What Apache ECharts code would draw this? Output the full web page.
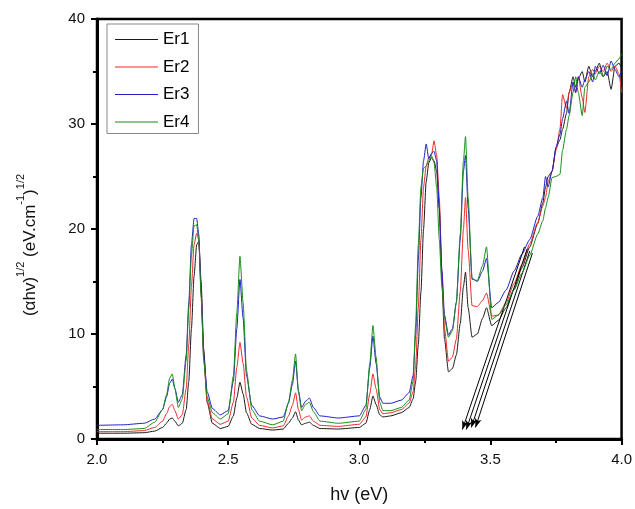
<!DOCTYPE html>
<html>
<head>
<meta charset="utf-8">
<script src="https://cdn.jsdelivr.net/npm/echarts@6/dist/echarts.min.js"></script>
<style>
html,body{margin:0;padding:0;background:#fff;}
#chart{width:635px;height:509px;}
</style>
</head>
<body>
<div id="chart"></div>
<script>
var hv = [2.00,2.10,2.18,2.22,2.25,2.265,2.277,2.287,2.297,2.31,
2.325,2.34,2.35,2.36,2.37,2.38,2.388,2.397,2.407,2.42,
2.44,2.47,2.50,2.52,2.533,2.545,2.557,2.57,2.59,2.62,
2.67,2.71,2.73,2.745,2.757,2.768,2.78,2.795,2.81,2.825,
2.85,2.92,3.00,3.025,3.04,3.052,3.064,3.078,3.09,3.12,
3.16,3.19,3.205,3.215,3.225,3.235,3.245,3.255,3.265,3.275,
3.285,3.295,3.305,3.315,3.325,3.34,3.355,3.37,3.385,3.397,
3.405,3.415,3.43,3.45,3.47,3.485,3.505,
3.53,3.56,3.59,3.62,3.65,3.68,3.70,3.71,3.72,3.735,
3.75,3.765,3.775,3.79,3.80,3.815,3.825,3.835,3.85,3.86,
3.875,3.89,3.90,3.915,3.93,3.945,3.96,3.975,3.99,4.00];

var er1 = [.55,.55,.6,.75,1.1,1.5,1.9,2.0,1.7,1.25,
1.5,2.8,5.5,10.5,15.5,18.5,18.8,15.0,8.5,3.5,
1.5,1.0,1.2,2.2,3.9,5.4,4.3,2.5,1.4,1.0,
.85,.95,1.5,2.0,2.6,1.8,1.35,1.5,1.6,1.3,
1.0,.95,1.1,1.5,2.8,4.1,3.3,2.3,2.1,2.2,
2.5,3.0,3.8,5.5,9.0,14.0,20.0,24.5,26.3,26.8,
26.5,25.5,22.0,15.0,9.5,6.4,6.7,8.0,11.0,14.5,
15.9,12.5,9.7,10.0,11.5,12.5,10.8,
11.3,12.5,14.3,16.3,18.3,20.5,22.5,24.0,25.0,25.5,
27.7,28.5,29.5,31.0,33.0,34.5,33.5,34.3,35.0,34.0,
35.5,34.5,35.0,35.8,34.5,35.0,33.3,35.5,35.8,35.3];

var er2 = [.7,.7,.8,1.1,1.7,2.4,3.1,3.3,2.7,1.9,
2.3,4.8,9.0,14.5,18.5,19.6,19.0,14.0,7.5,3.6,
1.9,1.4,1.7,3.5,6.8,9.2,7.2,4.0,2.0,1.3,
1.05,1.25,2.2,3.2,4.4,2.8,1.8,2.1,2.2,1.7,
1.3,1.2,1.4,2.1,4.3,6.2,4.8,2.8,2.4,2.5,
2.8,3.4,4.5,7.0,12.5,19.0,24.0,26.0,26.8,27.0,
28.4,27.0,23.0,16.0,10.5,7.4,7.8,9.5,14.0,20.0,
23.0,18.0,12.7,12.6,13.2,13.9,11.7,
11.8,13.0,14.8,16.6,18.6,20.6,22.2,23.0,24.5,25.5,
27.5,29.5,32.8,31.5,33.0,34.0,33.0,34.5,32.5,31.1,
34.5,35.2,34.8,35.5,35.0,35.8,35.0,35.5,34.8,33.0];

var er3 = [1.3,1.35,1.5,1.9,2.8,4.0,5.3,5.7,4.8,3.5,
4.2,8.0,13.0,18.5,21.0,21.0,19.5,14.0,8.0,4.5,
2.9,2.3,2.7,5.5,10.5,15.2,11.5,6.0,3.2,2.2,
1.9,2.1,3.4,5.2,7.4,4.6,3.0,3.6,3.9,3.0,
2.2,2.0,2.2,3.2,6.8,9.8,7.2,4.0,3.4,3.4,
3.7,4.4,6.0,10.0,17.0,23.0,26.5,28.1,26.7,27.2,
27.4,26.5,22.0,16.0,11.8,9.9,10.5,13.0,19.0,25.5,
27.0,22.0,15.3,15.0,16.0,17.2,12.5,
13.0,14.2,16.0,17.6,19.0,21.2,23.0,25.0,24.0,25.5,
27.8,29.0,30.5,32.2,31.0,34.0,33.0,34.5,33.5,34.2,
35.0,34.0,35.5,34.8,35.6,34.6,36.0,35.2,34.5,35.0];

var er4 = [.9,.9,1.0,1.6,2.8,4.2,5.8,6.2,4.8,3.0,
3.8,7.5,12.5,17.5,20.3,20.4,19.0,13.5,7.5,4.0,
2.5,1.9,2.4,6.0,12.0,17.4,13.0,6.5,2.8,1.7,
1.35,1.7,3.5,5.6,8.1,4.5,2.7,3.3,3.5,2.6,
1.7,1.5,1.7,2.8,7.2,10.8,7.8,3.5,2.7,2.7,
3.0,3.7,5.5,11.0,18.5,24.0,25.8,26.0,26.5,27.0,
26.3,24.0,19.0,14.5,11.5,9.7,10.3,13.0,19.5,26.5,
28.8,23.0,15.2,15.1,16.5,18.3,11.4,
11.8,12.8,14.2,15.8,17.5,19.5,20.8,22.0,23.0,24.9,
25.0,25.2,27.5,29.5,30.8,33.0,34.5,33.0,30.8,33.5,
34.0,34.8,34.2,35.0,34.5,35.5,35.2,35.8,36.2,36.7];

var seriesNames = ['Er1','Er2','Er3','Er4'];
var seriesColors = ['#1a1a1a','#f02828','#2020c8','#1a8c1a'];

// tangent lines (arrows): tip and upper end
var arrowTipX = [3.393,3.408,3.427,3.443];
var arrowTipY = [0.9,0.9,1.1,1.1];
var arrowEndX = [3.63,3.64,3.65,3.66];
var arrowEndY = [18.3,18.1,17.9,17.7];

var xTicks = [2.0,2.5,3.0,3.5,4.0];
var yTicks = [0,10,20,30,40];

var chart = echarts.init(document.getElementById('chart'), null, {renderer:'canvas'});
var allY = [er1,er2,er3,er4];
var series = allY.map(function(ys,k){
  return {
    name: seriesNames[k],
    type: 'line',
    symbol: 'none',
    smooth: 0.2,
    smoothMonotone: 'x',
    lineStyle: {width: 1, color: seriesColors[k]},
    itemStyle: {color: seriesColors[k]},
    data: hv.map(function(x,i){return [x, ys[i]];}),
    z: 2 + k,
    silent: true
  };
});
series.push({
  name: 'tangent',
  type: 'line',
  data: [],
  silent: true,
  markLine: {
    silent: true,
    symbol: ['arrow','none'],
    symbolSize: [5, 9],
    label: {show: false},
    lineStyle: {color: '#000', width: 1, type: 'solid'},
    emphasis: {disabled: true},
    animation: false,
    data: arrowTipX.map(function(x,i){
      return [{coord:[x, arrowTipY[i]]},{coord:[arrowEndX[i], arrowEndY[i]]}];
    })
  },
  z: 10
});

var axisFont = 'Liberation Sans, Arial, sans-serif';
chart.setOption({
  animation: false,
  backgroundColor: '#fff',
  grid: {left: 97, right: 13, top: 19, bottom: 64, show: true, borderColor: '#000', borderWidth: 2.5, containLabel: false},
  legend: {
    data: seriesNames.map(function(n){return {name: n, icon: 'rect'};}),
    orient: 'vertical',
    left: 107, top: 24,
    padding: [7, 9, 3, 8],
    itemWidth: 43, itemHeight: 1, itemGap: 10.5,
    borderColor: '#888', borderWidth: 1,
    backgroundColor: '#fff',
    textStyle: {fontSize: 17, lineHeight: 14, color: '#000', fontFamily: axisFont},
    selectedMode: false
  },
  xAxis: {
    type: 'value', min: xTicks[0], max: xTicks[xTicks.length-1], interval: 0.5,
    axisLine: {show: true, onZero: false, lineStyle: {color: '#000', width: 3}},
    axisTick: {show: true, inside: false, length: 6, lineStyle: {color: '#000', width: 2}},
    minorTick: {show: true, splitNumber: 2, length: 4, lineStyle: {color: '#000', width: 2}},
    splitLine: {show: false},
    axisLabel: {fontSize: 15, color: '#111', margin: 13, fontFamily: axisFont,
      formatter: function(v){return v.toFixed(1);}},
    name: 'hv (eV)', nameLocation: 'middle', nameGap: 47,
    nameTextStyle: {fontSize: 18, color: '#111', fontFamily: axisFont}
  },
  yAxis: {
    type: 'value', min: yTicks[0], max: yTicks[yTicks.length-1], interval: 10,
    axisLine: {show: true, onZero: false, lineStyle: {color: '#000', width: 3}},
    axisTick: {show: true, inside: false, length: 6, lineStyle: {color: '#000', width: 2}},
    minorTick: {show: true, splitNumber: 2, length: 4, lineStyle: {color: '#000', width: 2}},
    splitLine: {show: false},
    axisLabel: {fontSize: 15, color: '#111', margin: 12, fontFamily: axisFont},
    name: '{a|(\u03B1hv)}{s|1/2}{a| (eV.cm}{s|-1}{a|)}{s|1/2}',
    nameLocation: 'middle', nameGap: 58, nameRotate: 90,
    nameTextStyle: {
      color: '#111', fontFamily: axisFont, padding: [0, 32, 0, 0],
      rich: {
        a: {fontSize: 17, color: '#111', fontFamily: axisFont, lineHeight: 24, verticalAlign: 'bottom'},
        s: {fontSize: 11, color: '#111', fontFamily: axisFont, lineHeight: 24, verticalAlign: 'top'}
      }
    }
  },
  series: series
});
</script>
</body>
</html>
